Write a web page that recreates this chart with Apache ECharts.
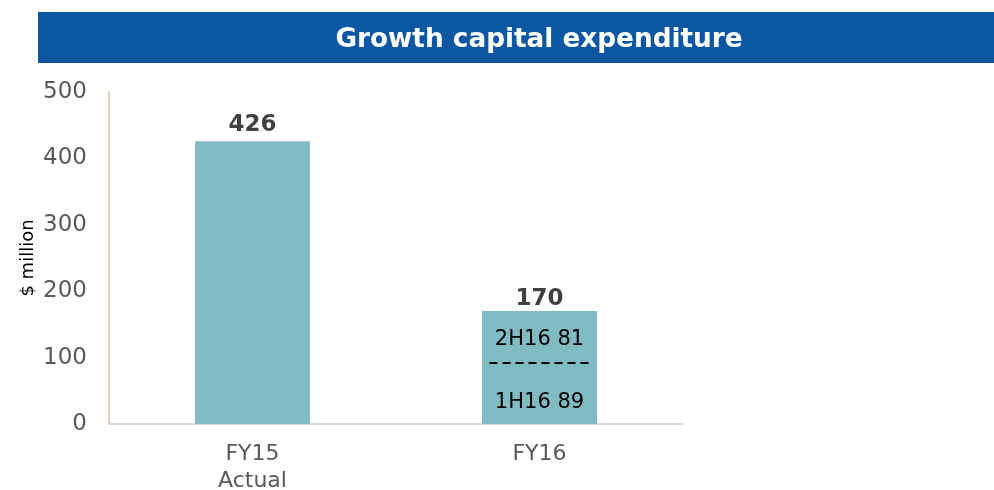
<!DOCTYPE html>
<html>
<head>
<meta charset="utf-8">
<script src="https://cdn.jsdelivr.net/npm/echarts@6/dist/echarts.min.js"></script>
<style>
  html, body { margin: 0; padding: 0; background: #fff; }
  #main { width: 994px; height: 490px; }
</style>
</head>
<body>
<div id="main"></div>
<script>
// data
var categories = ['FY15\nActual', 'FY16'];
var totals = [426, 170];
var halfNames = ['1H16', '2H16'];
var firstHalf = [null, 89];
var secondHalf = [null, 81];
var yTicks = [0, 100, 200, 300, 400, 500];

var barColor = '#80bac2';
var font = 'DejaVu Sans, Verdana, sans-serif';

var myChart = echarts.init(document.getElementById('main'));

myChart.setOption({
    animation: false,
    title: {
        text: 'Growth capital expenditure',
        left: 534,
        top: 22,
        textAlign: 'center',
        textStyle: { color: '#fff', fontSize: 26.3, fontWeight: 'bold', fontFamily: font }
    },
    graphic: [{
        type: 'rect',
        z: -1,
        shape: { x: 38, y: 12, width: 956, height: 51 },
        style: { fill: '#0b57a4' }
    }],
    grid: { left: 109, top: 92, width: 574, height: 332, outerBoundsMode: 'none', containLabel: false },
    xAxis: {
        type: 'category',
        data: categories,
        axisLine: { lineStyle: { color: '#d9d9d9', width: 2 } },
        axisTick: { show: false },
        axisLabel: { color: '#595959', fontSize: 22, fontFamily: font, lineHeight: 27, margin: 17 }
    },
    yAxis: {
        type: 'value',
        min: yTicks[0],
        max: yTicks[yTicks.length - 1],
        interval: 100,
        name: '$ million',
        nameLocation: 'middle',
        nameRotate: 90,
        nameGap: 72,
        nameMoveOverlap: false,
        nameTextStyle: { color: '#000', fontSize: 18, fontFamily: font },
        axisLine: { show: true, lineStyle: { color: '#d8cfbf', width: 2 } },
        axisTick: { show: false },
        splitLine: { show: false },
        axisLabel: { color: '#595959', fontSize: 23, fontFamily: font, margin: 22 }
    },
    series: [
        {
            name: 'Total',
            type: 'bar',
            data: totals.map(function (v, i) {
                return { value: v, label: { distance: i === 0 ? 5 : 1 } };
            }),
            barWidth: '40%',
            barGap: '-100%',
            itemStyle: { color: barColor },
            label: {
                show: true,
                position: 'top',
                color: '#404040',
                fontSize: 23,
                fontWeight: 'bold',
                fontFamily: font
            }
        },
        {
            name: halfNames[0],
            type: 'bar',
            stack: 'half',
            data: firstHalf,
            barWidth: '40%',
            itemStyle: { color: barColor },
            label: {
                show: true,
                position: 'inside',
                offset: [0, 8],
                color: '#000',
                fontSize: 21,
                fontFamily: font,
                formatter: function (p) { return halfNames[0] + ' ' + p.value; }
            }
        },
        {
            name: halfNames[1],
            type: 'bar',
            stack: 'half',
            data: secondHalf,
            barWidth: '40%',
            itemStyle: { color: barColor },
            label: {
                show: true,
                position: 'inside',
                offset: [0, 2],
                color: '#000',
                fontSize: 21,
                fontFamily: font,
                formatter: function (p) { return halfNames[1] + ' ' + p.value; }
            }
        },
        {
            type: 'custom',
            z: 5,
            data: [[1, firstHalf[1]]],
            renderItem: function (params, api) {
                var pt = api.coord([api.value(0), api.value(1)]);
                return {
                    type: 'line',
                    shape: { x1: pt[0] - 50, y1: pt[1] - 2, x2: pt[0] + 49, y2: pt[1] - 2 },
                    style: { stroke: '#000', lineWidth: 2, lineDash: [8, 5] }
                };
            }
        }
    ]
});
</script>
</body>
</html>
